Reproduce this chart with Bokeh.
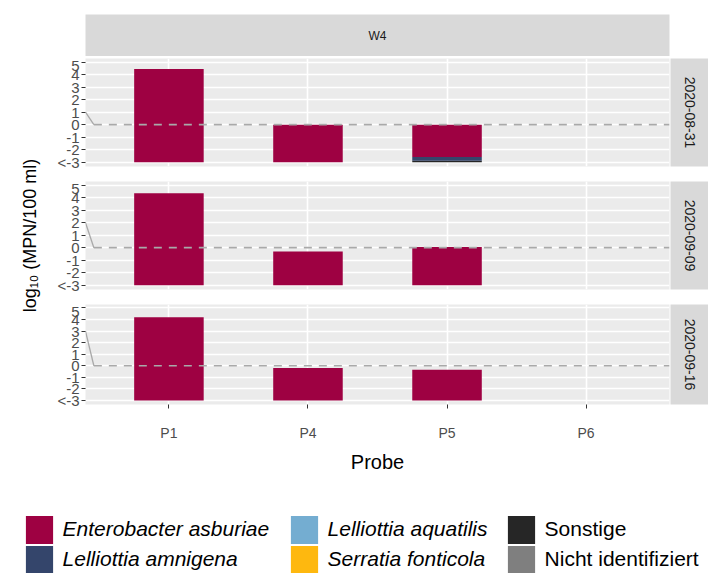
import numpy as np
from math import pi
from bokeh.plotting import figure
from bokeh.layouts import column, row
from bokeh.models import FactorRange, Range1d, FixedTicker, Legend, LegendItem
from bokeh.core.properties import value
from bokeh.embed import file_html
from bokeh.resources import INLINE

# ---------------- data ----------------
probes = ["P1", "P4", "P5", "P6"]
dates = ["2020-08-31", "2020-09-09", "2020-09-16"]
facet = "W4"
species = ["Enterobacter asburiae", "Lelliottia amnigena", "Lelliottia aquatilis",
           "Serratia fonticola", "Sonstige", "Nicht identifiziert"]
italic = [True, True, True, True, False, False]
colors = ["#9E0142", "#34456B", "#74ADD1", "#FEB80F", "#262626", "#7F7F7F"]

y_ticks = [-3, -2, -1, 0, 1, 2, 3, 4, 5]
y_tick_labels = ["<-3", "-2", "-1", "0", "1", "2", "3", "4", "5"]
baseline = -3

# stacked segment heights (log10 units above the "<-3" baseline), per date, per probe
enterobacter = {"2020-08-31": [7.45, 3.0, 2.58, 0.0],
                "2020-09-09": [7.35, 2.7, 3.05, 0.0],
                "2020-09-16": [7.2, 2.8, 2.65, 0.0]}
amnigena = {"2020-08-31": [0.0, 0.0, 0.30, 0.0],
            "2020-09-09": [0.0, 0.0, 0.0, 0.0],
            "2020-09-16": [0.0, 0.0, 0.0, 0.0]}
aquatilis = {d: [0.0, 0.0, 0.0, 0.0] for d in dates}
serratia = {d: [0.0, 0.0, 0.0, 0.0] for d in dates}
sonstige = {"2020-08-31": [0.0, 0.0, 0.12, 0.0],
            "2020-09-09": [0.0, 0.0, 0.0, 0.0],
            "2020-09-16": [0.0, 0.0, 0.0, 0.0]}
nicht_id = {d: [0.0, 0.0, 0.0, 0.0] for d in dates}
series = [enterobacter, amnigena, aquatilis, serratia, sonstige, nicht_id]

# detection-limit reference line per date and its connector start
limit = [0, 0, 0]
limit_start = [1, 2, 3]

y_title = "log\u2081\u2080 (MPN/100 ml)"
x_title = "Probe"

FONT = "Liberation Sans"
YLAB_W = 44
FRAME_W = 584
LEFT = 41
STRIP_W = 38
PANEL_H = 108
TOP_H = 56
GAP_B = 13
AXIS_B = 63

xr = FactorRange(*probes, range_padding=0.05, range_padding_units="percent")


def style_panel(p):
    p.background_fill_color = "#EBEBEB"
    p.border_fill_color = "white"
    p.outline_line_color = None
    p.xgrid.grid_line_color = "white"
    p.xgrid.grid_line_width = 1.6
    p.ygrid.ticker = FixedTicker(ticks=y_ticks)
    p.ygrid.grid_line_color = "white"
    p.ygrid.grid_line_width = 1.3


def panel(i, date, bottom_axis):
    mb = AXIS_B if bottom_axis else GAP_B
    p = figure(width=LEFT + FRAME_W + 1, height=2 + PANEL_H + mb, x_range=xr,
               y_range=Range1d(-3.35, 5.3), output_backend="svg", toolbar_location=None,
               x_axis_location="below" if bottom_axis else None,
               min_border_left=LEFT, min_border_right=1, min_border_top=2, min_border_bottom=mb)
    style_panel(p)
    # stacked bars from the baseline; first species on top
    cum = np.full(len(probes), float(baseline))
    for k in reversed(range(len(species))):
        h = np.array(series[k][date], dtype=float)
        m = h > 0
        if m.any():
            p.vbar(x=[pr for pr, mm in zip(probes, m) if mm], bottom=cum[m], top=(cum + h)[m],
                   width=0.5, fill_color=colors[k], line_color=None)
        cum = cum + h
    # reference line
    p.segment(x0=[("P1", -0.6)], y0=[limit_start[i]], x1=[("P1", -0.54)], y1=[limit[i]],
              line_color="#A9A9A9", line_width=1.3)
    p.segment(x0=[("P1", -0.54)], y0=[limit[i]], x1=[("P6", 0.6)], y1=[limit[i]],
              line_color="#A9A9A9", line_width=1.6, line_dash="8 7")
    ax = p.yaxis[0]
    ax.ticker = FixedTicker(ticks=y_ticks)
    ax.major_label_overrides = {t: l for t, l in zip(y_ticks, y_tick_labels)}
    ax.axis_line_color = None
    ax.major_tick_line_color = "#333333"
    ax.major_tick_out = 4
    ax.major_tick_in = 0
    ax.minor_tick_line_color = None
    ax.major_label_standoff = 2
    ax.major_label_text_font = FONT
    ax.major_label_text_font_size = "15px"
    ax.major_label_text_color = "#4D4D4D"
    if bottom_axis:
        xa = p.xaxis[0]
        xa.axis_line_color = None
        xa.major_tick_line_color = "#333333"
        xa.major_tick_out = 4
        xa.major_tick_in = 0
        xa.major_label_standoff = 16
        xa.major_label_text_font = FONT
        xa.major_label_text_font_size = "14px"
        xa.major_label_text_color = "#4D4D4D"
        xa.axis_label = x_title
        xa.axis_label_text_font = FONT
        xa.axis_label_text_font_size = "20px"
        xa.axis_label_text_font_style = "normal"
        xa.axis_label_text_color = "black"
        xa.axis_label_standoff = 7
    return p


def side_strip(label, bottom_axis):
    mb = AXIS_B if bottom_axis else GAP_B
    s = figure(width=STRIP_W, height=2 + PANEL_H + mb, x_range=Range1d(0, 1),
               y_range=Range1d(0, 1), output_backend="svg", toolbar_location=None,
               x_axis_location=None, y_axis_location=None, min_border_left=0,
               min_border_right=0, min_border_top=2, min_border_bottom=mb)
    s.background_fill_color = "#D9D9D9"
    s.outline_line_color = None
    s.grid.visible = False
    s.text(x=[0.5], y=[0.5], text=[label], angle=-pi / 2, text_align="center",
           text_baseline="middle", text_font=value(FONT), text_font_size="14px",
           text_color="#1A1A1A")
    return s


top = figure(width=LEFT + FRAME_W + 1, height=TOP_H, x_range=Range1d(0, 1),
             y_range=Range1d(0, 1), output_backend="svg", toolbar_location=None,
             x_axis_location=None, y_axis_location=None, min_border_left=LEFT,
             min_border_right=1, min_border_top=14, min_border_bottom=0)
top.background_fill_color = "#D9D9D9"
top.outline_line_color = None
top.grid.visible = False
top.text(x=[0.5], y=[0.5], text=[facet], text_align="center", text_baseline="middle",
         text_font=value(FONT), text_font_size="12px", text_color="#1A1A1A")

rows = []
for i, d in enumerate(dates):
    last = i == len(dates) - 1
    rows.append(row(panel(i, d, last), side_strip(d, last)))

body_h = TOP_H + 2 * (2 + PANEL_H + GAP_B) + (2 + PANEL_H + AXIS_B)

# y-axis title spanning all panels (centred on middle panel)
ylab = figure(width=YLAB_W, height=body_h, x_range=Range1d(0, YLAB_W),
              y_range=Range1d(0, body_h), output_backend="svg", toolbar_location=None,
              x_axis_location=None, y_axis_location=None, min_border_left=0,
              min_border_right=0, min_border_top=0, min_border_bottom=0)
ylab.outline_line_color = None
ylab.grid.visible = False
mid_from_top = TOP_H + (2 + PANEL_H + GAP_B) + 2 + PANEL_H / 2
ylab.text(x=[29], y=[body_h - mid_from_top], text=[y_title], angle=pi / 2,
          text_align="center", text_baseline="middle", text_font=value(FONT),
          text_font_size="18px", text_color="black")

# legend: 3 columns x 2 rows, one single-item legend per key
LG_H = 573 - body_h
lg = figure(width=708, height=LG_H, x_range=Range1d(0, 1), y_range=Range1d(0, 1),
            output_backend="svg", toolbar_location=None, x_axis_location=None,
            y_axis_location=None, min_border_left=0, min_border_right=0,
            min_border_top=0, min_border_bottom=0)
lg.outline_line_color = None
lg.grid.visible = False
rends = [lg.vbar(x=[5], top=[5], bottom=[4], width=0.5, fill_color=c, line_color=None)
         for c in colors]
col_x = [21.6, 286.6, 503.6]
row_y = [26.5, -3.5]
for k in range(len(species)):
    ci, ri = divmod(k, 2)
    leg = Legend(items=[LegendItem(label=species[k], renderers=[rends[k]])],
                 location=(col_x[ci], row_y[ri]), orientation="vertical",
                 glyph_width=34, glyph_height=35, spacing=0, padding=0, margin=0,
                 label_standoff=7, label_height=35, label_text_font=FONT,
                 label_text_font_size="21px",
                 label_text_font_style="italic" if italic[k] else "normal",
                 label_text_color="black", border_line_color=None,
                 background_fill_alpha=0)
    lg.add_layout(leg)

layout = column(row(ylab, column(top, *rows)), lg)
open("out.html", "w").write(file_html(layout, INLINE))
